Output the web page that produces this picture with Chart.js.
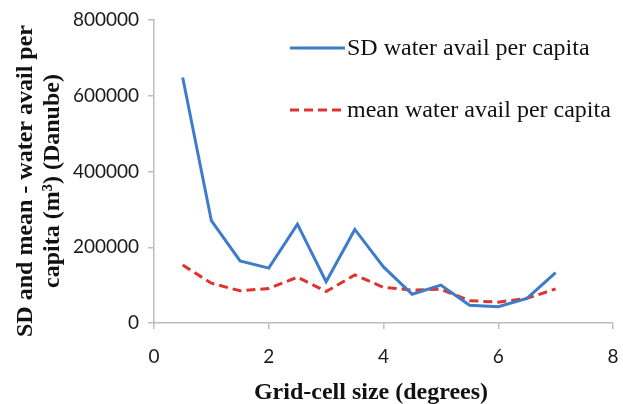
<!DOCTYPE html>
<html>
<head>
<meta charset="utf-8">
<script src="https://cdn.jsdelivr.net/npm/chart.js@4/dist/chart.umd.min.js"></script>
<style>
  html, body { margin: 0; padding: 0; background: #ffffff; }
  #wrap { width: 623px; height: 404px; }
</style>
</head>
<body>
<div id="wrap"><canvas id="chart" width="623" height="404"></canvas></div>
<script>
// Grid-cell size in degrees
const gridSizes = [0.5, 1, 1.5, 2, 2.5, 3, 3.5, 4, 4.5, 5, 5.5, 6, 6.5, 7];
// Standard deviation of water availability per capita (m3), Danube
const sdWater = [648000, 270000, 164000, 145000, 261000, 109000, 247000, 148000, 76000, 100000, 47000, 43000, 65000, 133000];
// Mean water availability per capita (m3), Danube
const meanWater = [153000, 105000, 85000, 91000, 121000, 83000, 127000, 94000, 87000, 89000, 59000, 55000, 65000, 90000];

const seriesLabels = ['SD water avail per capita', 'mean water avail per capita'];
const xTickValues = [0, 2, 4, 6, 8];
const yTickValues = [0, 200000, 400000, 600000, 800000];
const xTitle = 'Grid-cell size (degrees)';
const yTitle = ['SD and mean - water avail per', 'capita (m\u00b3) (Danube)'];

const toPoints = (ys) => gridSizes.map((x, i) => ({ x: x, y: ys[i] }));

const AXIS_GREY = '#bdbdbd';
const TICK_FONT = { family: 'Lato, "Open Sans", sans-serif', size: 19 };
const SERIF = '"Liberation Serif", "DejaVu Serif", serif';

// Legend drawn inside the plot area, plus both axis titles
const annotations = {
  id: 'annotations',
  afterDraw(chart) {
    const ctx = chart.ctx;
    const area = chart.chartArea;
    ctx.save();
    chart.data.datasets.forEach((ds, i) => {
      const y = area.top + 28 + i * 62;
      const x0 = area.left + 136;
      const x1 = area.left + 191;
      ctx.beginPath();
      ctx.setLineDash(ds.borderDash || []);
      ctx.lineWidth = ds.borderWidth;
      ctx.strokeStyle = ds.borderColor;
      ctx.moveTo(x0, y);
      ctx.lineTo(x1, y);
      ctx.stroke();
      ctx.setLineDash([]);
      ctx.fillStyle = '#111111';
      ctx.font = '24px ' + SERIF;
      ctx.textAlign = 'left';
      ctx.textBaseline = 'middle';
      ctx.fillText(ds.label, x1 + 2, y + 1);
    });

    ctx.fillStyle = '#111111';
    ctx.font = 'bold 24px ' + SERIF;
    ctx.textAlign = 'center';
    ctx.textBaseline = 'middle';
    // horizontal axis title
    ctx.fillText(xTitle, area.left + 217, 393);
    // vertical axis title, two lines
    ctx.translate(26, area.top + 161);
    ctx.rotate(-Math.PI / 2);
    yTitle.forEach((line, i) => ctx.fillText(line, 0, i * 27));
    ctx.restore();
  }
};

new Chart(document.getElementById('chart'), {
  type: 'line',
  data: {
    datasets: [
      {
        label: seriesLabels[0],
        data: toPoints(sdWater),
        borderColor: '#3d7bcb',
        borderWidth: 3,
        pointRadius: 0,
        tension: 0,
        fill: false
      },
      {
        label: seriesLabels[1],
        data: toPoints(meanWater),
        borderColor: '#e0332d',
        borderWidth: 3,
        borderDash: [9, 5],
        pointRadius: 0,
        tension: 0,
        fill: false
      }
    ]
  },
  options: {
    responsive: false,
    animation: false,
    devicePixelRatio: 1,
    layout: { padding: { top: 20, right: 10, left: 0, bottom: 0 } },
    plugins: {
      legend: { display: false },
      tooltip: { enabled: false }
    },
    scales: {
      x: {
        type: 'linear',
        min: 0,
        max: 8,
        afterBuildTicks(scale) { scale.ticks = xTickValues.map(v => ({ value: v })); },
        afterFit(scale) {
          scale.height = 81;
          scale.paddingLeft = 0;
          scale.paddingRight = 0;
        },
        ticks: { font: TICK_FONT, color: '#1a1a1a', padding: 16, maxRotation: 0 },
        grid: { drawOnChartArea: false, drawTicks: true, tickLength: 6, color: AXIS_GREY, lineWidth: 1.5 },
        border: { color: AXIS_GREY, width: 1.5 },
        title: { display: false }
      },
      y: {
        type: 'linear',
        min: 0,
        max: 800000,
        afterBuildTicks(scale) { scale.ticks = yTickValues.map(v => ({ value: v })); },
        afterFit(scale) {
          scale.width = 154;
          scale.paddingTop = 0;
          scale.paddingBottom = 0;
        },
        ticks: { font: TICK_FONT, color: '#1a1a1a', padding: 9, callback: v => String(v) },
        grid: { drawOnChartArea: false, drawTicks: true, tickLength: 6, color: AXIS_GREY, lineWidth: 1.5 },
        border: { color: AXIS_GREY, width: 1.5 },
        title: { display: false }
      }
    }
  },
  plugins: [annotations]
});
</script>
</body>
</html>
